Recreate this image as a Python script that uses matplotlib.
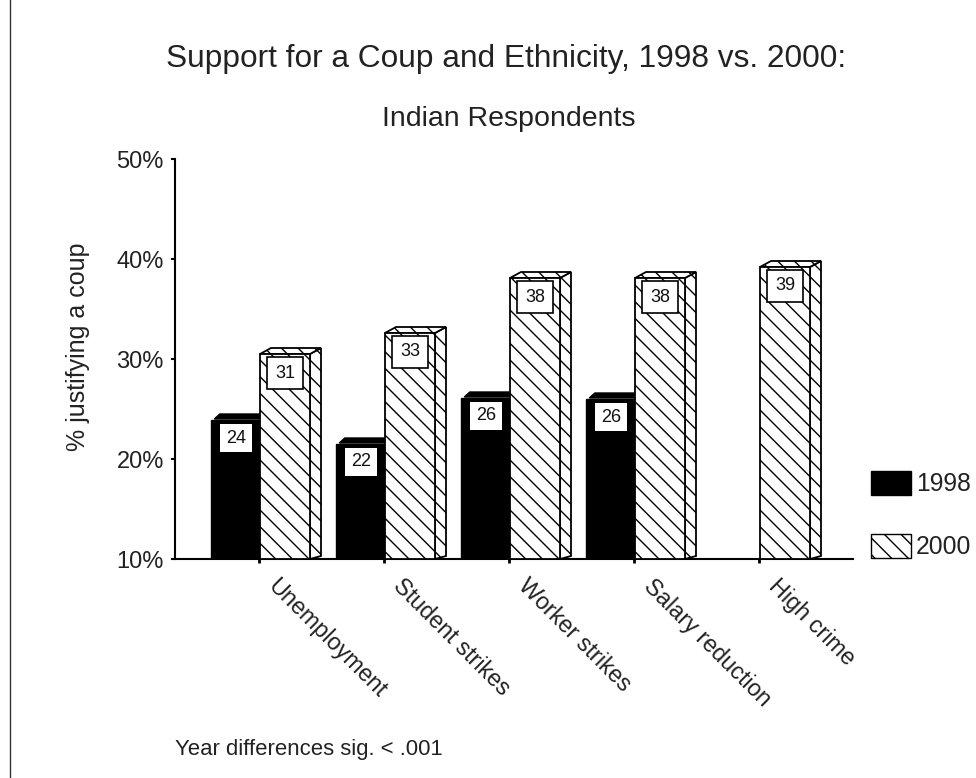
import matplotlib
matplotlib.use("Agg")
import matplotlib.pyplot as plt
from matplotlib.patches import Polygon, Patch
from matplotlib.lines import Line2D
from matplotlib.transforms import ScaledTranslation

plt.rcParams['font.family'] = ['Liberation Sans', 'DejaVu Sans']
plt.rcParams['hatch.linewidth'] = 1.0

categories = ["Unemployment", "Student strikes", "Worker strikes", "Salary reduction", "High crime"]
values_1998 = [23.9, 21.5, 26.1, 26.0, None]
values_2000 = [30.5, 32.6, 38.1, 38.1, 39.2]
labels_1998 = ["24", "22", "26", "26", None]
labels_2000 = ["31", "33", "38", "38", "39"]
yticks = [10, 20, 30, 40, 50]

W, H = 976, 778
fig = plt.figure(figsize=(W/100, H/100), dpi=100, facecolor='white')
L, R, T, B = 175, 853, 159, 559
ax = fig.add_axes([L/W, 1-B/H, (R-L)/W, (B-T)/H])
step = 125.0
x0 = 259.0
ax.set_xlim((L-x0)/step, (R-x0)/step)
ax.set_ylim(10, 50)

bw_black = 48/step
bw_hatch = 50/step
dx = 11/step
dy = 0.6
ink = '#111111'

for i, (a, b) in enumerate(zip(values_1998, values_2000)):
    if a is not None:
        ax.bar(i-bw_black/2, a-10, bw_black, bottom=10, color='black', edgecolor='black', lw=1, zorder=2)
        ax.add_patch(Polygon([(i-bw_black+dx*.3, a+0.1), (i-bw_black+dx*.8, a+dy), (i, a+dy), (i, a+0.1)],
                             closed=True, fc='black', ec='black', lw=1, zorder=1))
        ax.text(i-bw_black/2+1/step, a-1.8, labels_1998[i], ha='center', va='center', fontsize=13, color=ink, zorder=5,
                bbox=dict(boxstyle='square,pad=0.33', fc='white', ec='white', lw=0))
    xl = i + 1/step
    xr = xl + bw_hatch
    ax.add_patch(Polygon([(xr, 10), (xr+dx, 10.3), (xr+dx, b+dy), (xr, b)], closed=True,
                         fc='white', ec='black', hatch='\\\\', lw=1.3, zorder=2))
    ax.add_patch(Polygon([(xl, b), (xl+dx, b+dy), (xr+dx, b+dy), (xr, b)], closed=True,
                         fc='white', ec='black', hatch='\\\\', lw=1.3, zorder=2))
    ax.bar(xl, b-10, bw_hatch, bottom=10, align='edge', color='white', edgecolor='black',
           hatch='\\\\', lw=1.3, zorder=3)
    ax.text(xl+bw_hatch/2, b-1.9, labels_2000[i], ha='center', va='center', fontsize=13, color=ink, zorder=5,
            bbox=dict(boxstyle='square,pad=0.42', fc='white', ec='black', lw=1.2))

for s in ('top', 'right'):
    ax.spines[s].set_visible(False)
for s in ('left', 'bottom'):
    ax.spines[s].set_linewidth(1.5)
    ax.spines[s].set_color('black')

ax.set_yticks(yticks)
ax.set_yticklabels([f"{v}%" for v in yticks], fontsize=17, color='#222222')
ax.tick_params(axis='y', length=3, width=1.5, pad=5)
ax.set_xticks(range(len(categories)))
ax.set_xticklabels(categories, rotation=-45, ha='left', va='top', rotation_mode='anchor',
                   fontsize=16.8, color='#222222')
ax.tick_params(axis='x', length=3, width=2, pad=8)
shift = ScaledTranslation(21/100, 0, fig.dpi_scale_trans)
for lab in ax.get_xticklabels():
    lab.set_transform(lab.get_transform() + shift)
ax.set_ylabel("% justifying a coup", fontsize=18, color='#222222', labelpad=0)
ax.yaxis.set_label_coords((90-L)/(R-L), 0.53)

leg = ax.legend(handles=[Patch(fc='black', ec='black', label='1998'),
                         Patch(fc='white', ec='black', hatch='\\\\', label='2000')],
                loc='lower left', bbox_to_anchor=((871-L)/(R-L), 0.0), borderaxespad=0, borderpad=0,
                frameon=False, fontsize=17.8, handlelength=1.62, handleheight=1.12,
                handletextpad=0.2, labelspacing=1.5, labelcolor='#222222')

def px(x, y):
    return x/W, 1-y/H

fig.text(*px(506.5, 59), "Support for a Coup and Ethnicity, 1998 vs. 2000:", ha='center', va='center', fontsize=22.8, color='#222222')
fig.text(*px(509, 119), "Indian Respondents", ha='center', va='center', fontsize=20.5, color='#222222')
fig.text(*px(175, 749), "Year differences sig. < .001", ha='left', va='center', fontsize=15.9, color='#222222')
fig.add_artist(Line2D([10/W, 10/W], [0, 1], color='#333333', lw=1))

fig.savefig('out.png', dpi=100)
